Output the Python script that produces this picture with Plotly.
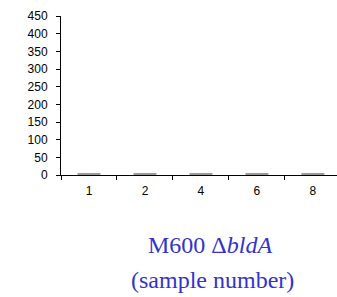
import plotly.graph_objects as go

categories = ["1", "2", "4", "6", "8"]
values = [3, 3, 3, 3, 3]
y_ticks = [0, 50, 100, 150, 200, 250, 300, 350, 400, 450]

fig = go.Figure()
fig.add_trace(go.Bar(
    x=categories, y=values, width=0.41,
    marker=dict(color="#9a9a9a", line=dict(width=0)),
))

fig.update_layout(
    width=337, height=297,
    margin=dict(l=61, r=0, t=16, b=122, pad=0, autoexpand=False),
    plot_bgcolor="white", paper_bgcolor="white",
    showlegend=False,
    font=dict(family="Liberation Sans, Arial, sans-serif", size=12, color="black"),
)
fig.update_xaxes(
    type="category", range=[-0.5, 4.43], automargin=False,
    showline=True, linecolor="black", linewidth=1,
    ticks="outside", ticklen=4, tickcolor="black", tickson="boundaries",
    showgrid=False, zeroline=False, ticklabelstandoff=5,
    tickfont=dict(size=12),
)
fig.update_yaxes(
    range=[0, 450], tickvals=y_ticks, automargin=False,
    showline=True, linecolor="black", linewidth=1,
    ticks="outside", ticklen=4, tickcolor="black",
    showgrid=False, zeroline=False, ticklabelstandoff=6,
    tickfont=dict(size=12),
)

blue = "rgb(51,51,204)"
serif = dict(family="Liberation Serif, Times New Roman, serif", size=24, color=blue)
fig.add_annotation(
    text="M600 Δ<i>bldA</i>", x=(210 - 61) / 276, y=(297 - 122 - 245) / 159,
    xref="paper", yref="paper", xanchor="center", yanchor="middle",
    showarrow=False, font=serif,
)
fig.add_annotation(
    text="(sample number)", x=(212 - 61) / 276, y=(297 - 122 - 280) / 159,
    xref="paper", yref="paper", xanchor="center", yanchor="middle",
    showarrow=False, font=serif,
)

fig.write_html(
    "out.html",
    config={"displayModeBar": False},
    post_script="document.body.style.margin='0';document.body.style.padding='0';document.body.style.overflow='hidden';",
)
